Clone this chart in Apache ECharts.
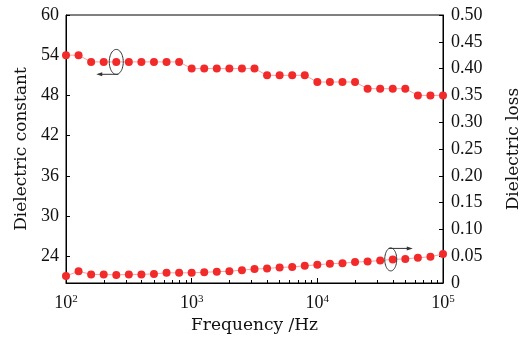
<!DOCTYPE html>
<html>
<head>
<meta charset="utf-8">
<script src="https://cdn.jsdelivr.net/npm/echarts@6/dist/echarts.min.js"></script>
<style>
  html, body { margin: 0; padding: 0; background: #fff; }
  #chart { width: 530px; height: 342px; }
</style>
</head>
<body>
<div id="chart"></div>
<script>
// 频率 (log10 Hz)
const freqExp = [2.0, 2.1, 2.2, 2.3, 2.4, 2.5, 2.6, 2.7, 2.8, 2.9,
  3.0, 3.1, 3.2, 3.3, 3.4, 3.5, 3.6, 3.7, 3.8, 3.9,
  4.0, 4.1, 4.2, 4.3, 4.4, 4.5, 4.6, 4.7, 4.8, 4.9, 5.0];
// 介电常数
const constantData = [54, 54, 53, 53, 53, 53, 53, 53, 53, 53,
  52, 52, 52, 52, 52, 52, 51, 51, 51, 51,
  50, 50, 50, 50, 49, 49, 49, 49, 48, 48, 48];
// 介电损耗
const lossData = [0.013, 0.022, 0.016, 0.016, 0.015, 0.016, 0.016, 0.017, 0.019, 0.019,
  0.019, 0.020, 0.021, 0.022, 0.024, 0.026, 0.027, 0.029, 0.030, 0.032,
  0.034, 0.036, 0.037, 0.039, 0.040, 0.042, 0.044, 0.045, 0.047, 0.049, 0.054];
const leftTicks = [24, 30, 36, 42, 48, 54, 60];
const xMajorTicks = [2, 3, 4, 5];
const xMinorTicks = [];
[2, 3, 4].forEach(d => {
  for (let n = 2; n <= 9; n++) xMinorTicks.push(d + Math.log10(n));
});

const numFont = 'Liberation Serif';
const nameFont = 'DejaVu Serif';
const dotColor = '#f22a2a';
const lineColor = '#f5a3a3';

const chart = echarts.init(document.getElementById('chart'));
const option = {
  animation: false,
  grid: {
    left: 66, right: 83, top: 15, bottom: 59,
    show: true, borderColor: '#000', borderWidth: 1,
  },
  xAxis: [
    {
      type: 'value', min: 2, max: 5, interval: 1,
      name: 'Frequency /Hz', nameLocation: 'middle', nameGap: 29,
      nameTextStyle: { fontFamily: nameFont, fontSize: 17, color: '#111' },
      axisLine: { lineStyle: { color: '#000' } },
      axisTick: { inside: true, length: 5, customValues: xMajorTicks, lineStyle: { color: '#000' } },
      axisLabel: {
        margin: 11,
        customValues: xMajorTicks,
        formatter: v => '{b|10}{s|' + v + '}',
        rich: {
          b: { fontFamily: numFont, fontSize: 18, color: '#111' },
          s: { fontFamily: numFont, fontSize: 11, color: '#111', verticalAlign: 'top', padding: [0, 0, 7, 0] },
        },
      },
      splitLine: { show: false },
    },
    {
      type: 'value', min: 2, max: 5, position: 'bottom',
      axisLine: { show: false },
      axisTick: { inside: true, length: 3, customValues: xMinorTicks, lineStyle: { color: '#000' } },
      axisLabel: { show: false },
      splitLine: { show: false },
    },
  ],
  yAxis: [
    {
      type: 'value', min: 20, max: 60, position: 'left',
      name: 'Dielectric constant', nameLocation: 'middle', nameGap: 34, nameRotate: 90,
      nameTextStyle: { fontFamily: nameFont, fontSize: 17, color: '#111' },
      axisLine: { show: true, lineStyle: { color: '#000' } },
      axisTick: { inside: true, length: 4, customValues: leftTicks, lineStyle: { color: '#000' } },
      axisLabel: { customValues: leftTicks, margin: 7, fontFamily: numFont, fontSize: 18, color: '#111' },
      splitLine: { show: false },
    },
    {
      type: 'value', min: 0, max: 0.5, interval: 0.05, position: 'right',
      name: 'Dielectric loss', nameLocation: 'middle', nameGap: 62, nameRotate: 90,
      nameTextStyle: { fontFamily: nameFont, fontSize: 17, color: '#111' },
      axisLine: { show: true, lineStyle: { color: '#000' } },
      axisTick: { inside: true, length: 4, lineStyle: { color: '#000' } },
      axisLabel: {
        margin: 8, fontFamily: numFont, fontSize: 18, color: '#111',
        formatter: v => (v === 0 ? '0' : v.toFixed(2)),
      },
      splitLine: { show: false },
    },
  ],
  series: [
    {
      name: 'Dielectric constant', type: 'line', xAxisIndex: 0, yAxisIndex: 0,
      data: freqExp.map((x, i) => [x, constantData[i]]),
      symbol: 'circle', symbolSize: 8,
      itemStyle: { color: dotColor },
      lineStyle: { color: lineColor, width: 1 },
    },
    {
      name: 'Dielectric loss', type: 'line', xAxisIndex: 0, yAxisIndex: 1,
      data: freqExp.map((x, i) => [x, lossData[i]]),
      symbol: 'circle', symbolSize: 8,
      itemStyle: { color: dotColor },
      lineStyle: { color: lineColor, width: 1 },
    },
  ],
};
chart.setOption(option);

// 椭圆+箭头标注
function ellipse(cx, cy, rx, ry) {
  const pts = [];
  for (let i = 0; i < 48; i++) {
    const a = i / 48 * Math.PI * 2;
    pts.push([cx + rx * Math.cos(a), cy + ry * Math.sin(a)]);
  }
  return { type: 'polygon', shape: { points: pts }, style: { fill: 'none', stroke: '#333', lineWidth: 1 }, z: 100 };
}
function arrow(x1, y, x2) {
  const dir = x2 > x1 ? 1 : -1;
  return [
    { type: 'line', shape: { x1: x1, y1: y, x2: x2 - dir * 4, y2: y }, style: { stroke: '#333', lineWidth: 1 }, z: 100 },
    { type: 'polygon', shape: { points: [[x2, y], [x2 - dir * 6, y - 2], [x2 - dir * 6, y + 2]] }, style: { fill: '#333' }, z: 100 },
  ];
}
const pa = chart.convertToPixel({ xAxisIndex: 0, yAxisIndex: 0 }, [freqExp[4], constantData[4]]);
const pb = chart.convertToPixel({ xAxisIndex: 0, yAxisIndex: 1 }, [freqExp[26], lossData[26]]);
chart.setOption({
  graphic: [
    ellipse(pa[0], pa[1], 7, 12.5),
    ...arrow(pa[0] + 2, pa[1] + 12.4, pa[0] - 20),
    ellipse(pb[0] - 2, pb[1], 6, 11.5),
    ...arrow(pb[0] - 4, pb[1] - 11, pb[0] + 20),
  ],
});
window.addEventListener('resize', () => chart.resize());
</script>
</body>
</html>
